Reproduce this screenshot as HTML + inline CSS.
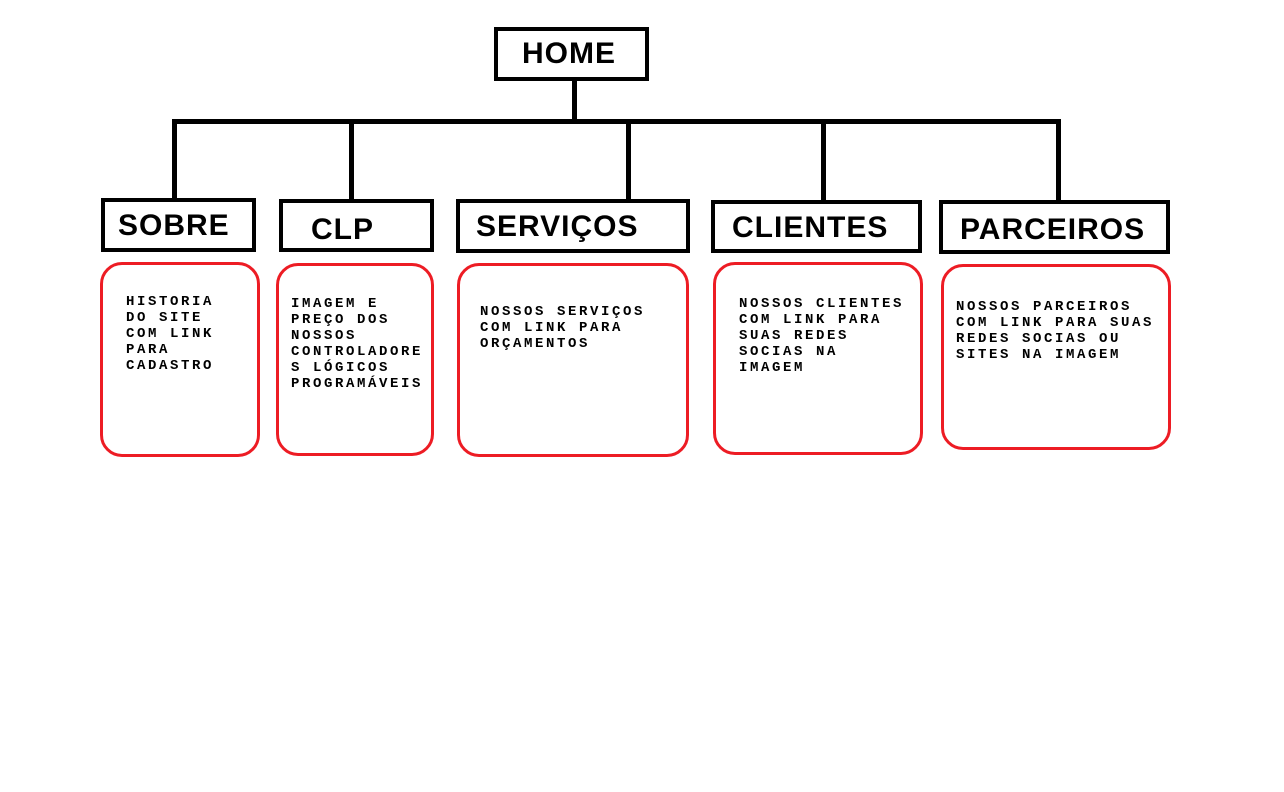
<!DOCTYPE html>
<html><head><meta charset="utf-8"><style>
body{margin:0;width:1284px;height:792px;background:#fff;position:relative;overflow:hidden}
.b{position:absolute;border:4px solid #000;box-sizing:border-box;background:#fff}
.l{position:absolute;background:#000}
.t{position:absolute;font:bold 30px "Liberation Sans",sans-serif;letter-spacing:1px;color:#000;line-height:30px}
.r{position:absolute;border:3px solid #ed1c24;border-radius:22px;box-sizing:border-box}
.s{position:absolute;font:bold 14px "Liberation Mono",monospace;letter-spacing:2.6px;line-height:16px;color:#000;white-space:pre}
</style></head><body>
<div class="l" style="left:572px;top:78px;width:5px;height:44px"></div>
<div class="l" style="left:172px;top:119px;width:889px;height:5px"></div>
<div class="l" style="left:172px;top:119px;width:5px;height:81px"></div>
<div class="l" style="left:349px;top:119px;width:5px;height:81px"></div>
<div class="l" style="left:626px;top:119px;width:5px;height:81px"></div>
<div class="l" style="left:821px;top:119px;width:5px;height:81px"></div>
<div class="l" style="left:1056px;top:119px;width:5px;height:81px"></div>

<div class="b" style="left:494px;top:27px;width:155px;height:54px"></div>
<div class="t" style="left:522px;top:39px">HOME</div>
<div class="b" style="left:101px;top:198px;width:155px;height:54px"></div>
<div class="t" style="left:118px;top:211px">SOBRE</div>
<div class="b" style="left:279px;top:199px;width:155px;height:53px"></div>
<div class="t" style="left:311px;top:215px">CLP</div>
<div class="b" style="left:456px;top:199px;width:234px;height:54px"></div>
<div class="t" style="left:476px;top:212px">SERVIÇOS</div>
<div class="b" style="left:711px;top:200px;width:211px;height:53px"></div>
<div class="t" style="left:732px;top:213px">CLIENTES</div>
<div class="b" style="left:939px;top:200px;width:231px;height:54px"></div>
<div class="t" style="left:960px;top:215px">PARCEIROS</div>

<div class="r" style="left:100px;top:262px;width:160px;height:195px"></div>
<div class="r" style="left:276px;top:263px;width:158px;height:193px"></div>
<div class="r" style="left:457px;top:263px;width:232px;height:194px"></div>
<div class="r" style="left:713px;top:262px;width:210px;height:193px"></div>
<div class="r" style="left:941px;top:264px;width:230px;height:186px"></div>

<div class="s" style="left:126px;top:294px">HISTORIA
DO SITE
COM LINK
PARA
CADASTRO</div>
<div class="s" style="left:291px;top:296px">IMAGEM E
PREÇO DOS
NOSSOS
CONTROLADORE
S LÓGICOS
PROGRAMÁVEIS</div>
<div class="s" style="left:480px;top:304px">NOSSOS SERVIÇOS
COM LINK PARA
ORÇAMENTOS</div>
<div class="s" style="left:739px;top:296px">NOSSOS CLIENTES
COM LINK PARA
SUAS REDES
SOCIAS NA
IMAGEM</div>
<div class="s" style="left:956px;top:299px">NOSSOS PARCEIROS
COM LINK PARA SUAS
REDES SOCIAS OU
SITES NA IMAGEM</div>
</body></html>
